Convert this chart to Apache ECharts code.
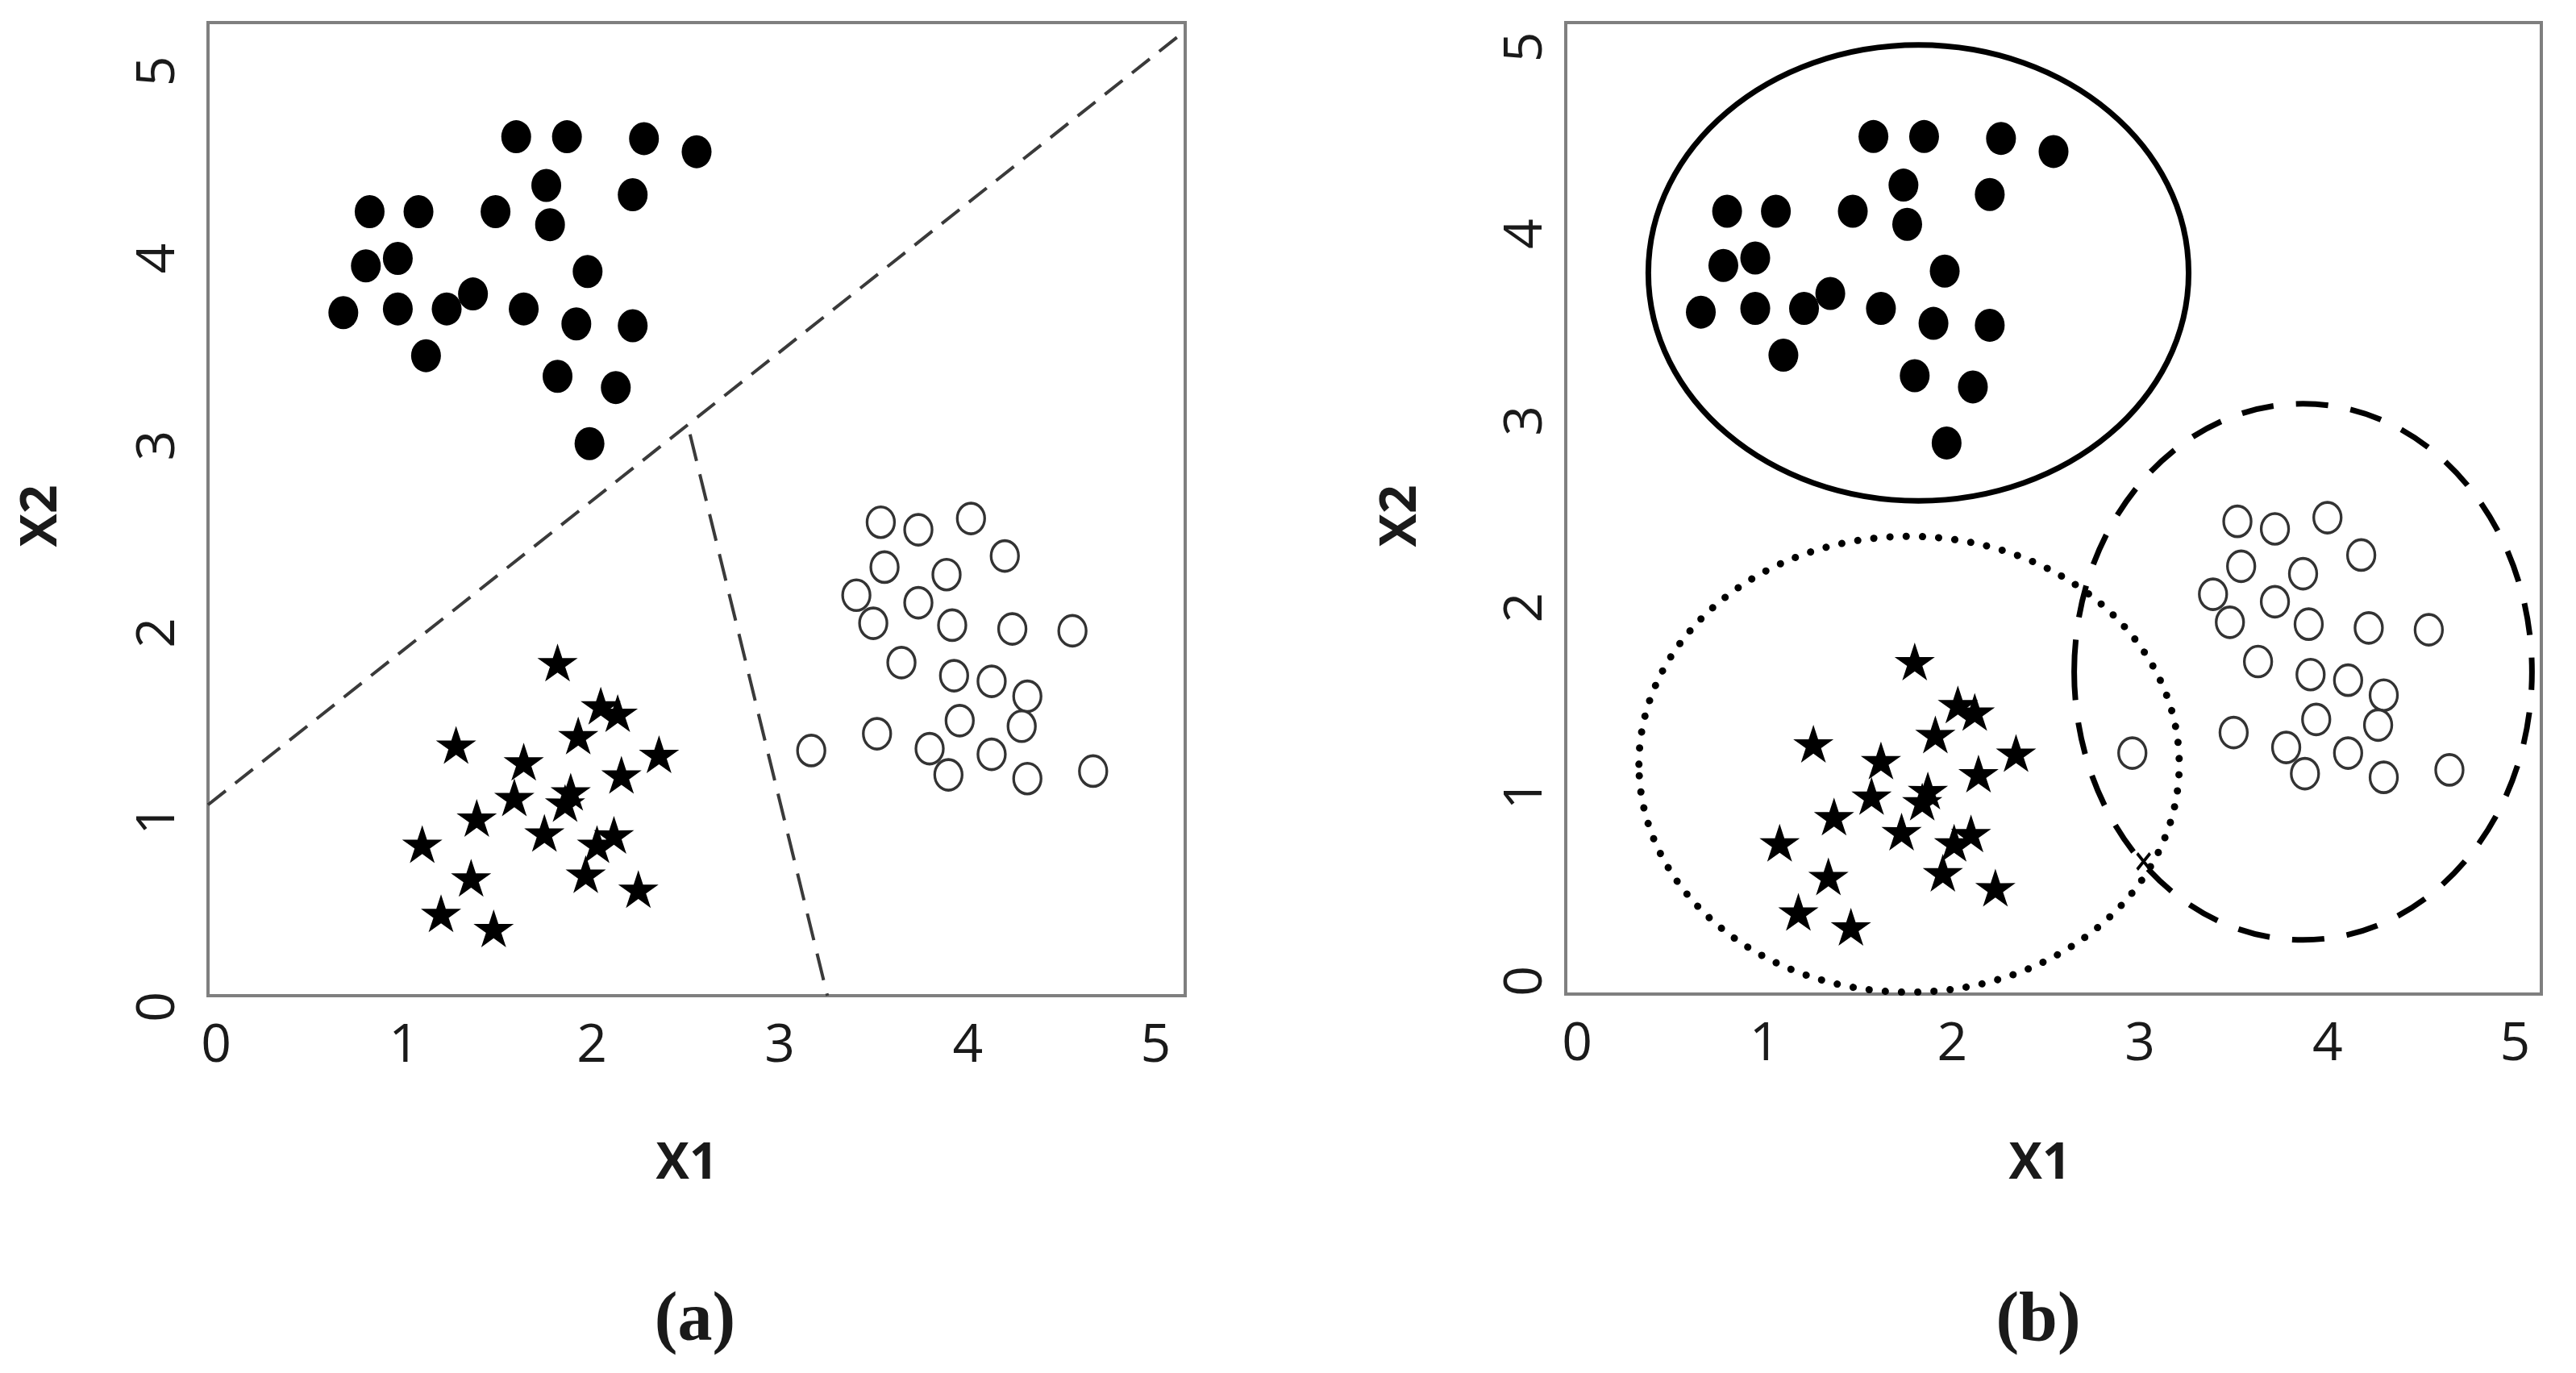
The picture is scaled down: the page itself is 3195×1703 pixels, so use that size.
<!DOCTYPE html>
<html>
<head>
<meta charset="utf-8">
<script src="https://cdn.jsdelivr.net/npm/echarts@6/dist/echarts.min.js"></script>
<style>
html,body{margin:0;padding:0;background:#fff;}
#chart{width:3195px;height:1703px;}
</style>
</head>
<body>
<div id="chart"></div>
<script>
// ---------- data ----------
var tickLabels = ['0', '1', '2', '3', '4', '5'];
var filledDots = [
  [1.64,4.59],[1.91,4.59],[2.32,4.58],[2.60,4.51],[1.80,4.33],[2.26,4.28],
  [0.86,4.19],[1.12,4.19],[1.53,4.19],[1.82,4.12],[0.84,3.90],[1.01,3.94],
  [2.02,3.87],[0.72,3.65],[1.01,3.67],[1.27,3.67],[1.41,3.75],[1.68,3.67],
  [1.96,3.59],[2.26,3.58],[1.16,3.42],[1.86,3.31],[2.17,3.25],[2.03,2.95]
];
var stars = [
  [1.86,1.78],[2.09,1.55],[2.18,1.51],[1.97,1.39],[1.32,1.34],[2.40,1.29],
  [1.68,1.25],[2.20,1.18],[1.63,1.06],[1.93,1.09],[1.90,1.03],[1.43,0.95],
  [1.79,0.87],[2.16,0.86],[2.07,0.81],[1.14,0.81],[1.40,0.63],[2.01,0.65],
  [2.29,0.57],[1.24,0.44],[1.52,0.36]
];
var hollowCommon = [
  [3.58,2.53],[3.78,2.49],[4.06,2.55],[4.24,2.35],[3.60,2.29],[3.93,2.25],
  [3.45,2.14],[3.78,2.10],[3.54,1.99],[3.96,1.98],[4.28,1.96],[4.60,1.95],
  [3.69,1.78],[3.97,1.71],[4.17,1.68],[4.36,1.60],[4.00,1.47],[4.33,1.44],
  [3.56,1.40],[3.84,1.32],[4.17,1.29],[3.94,1.18],[4.36,1.16],[4.71,1.20]
];
var hollowOutlierA = [[3.21,1.31]];
var hollowOutlierB = [[3.02,1.29]];
var boundaryLine1 = [[0,1.02],[5.18,5.14]];
var boundaryLine2 = [[2.565,3.00],[3.296,0]];
// ellipses in panel (b): [centerX, centerY, radiusX, radiusY]
var ellipseSolid  = [[1.88,3.86,1.44,1.22]];
var ellipseDotted = [[1.83,1.23,1.44,1.22]];
var ellipseDashed = [[3.93,1.725,1.22,1.435]];
var crossMark = [[3.08,0.71]];

// ---------- styling helpers ----------
var FONT = "'Open Sans', 'Noto Sans', sans-serif";
var starPath = 'path://M50 0 L61.17 34.63 L97.55 34.55 L68.07 55.87 L79.39 90.45 L50 69 L20.61 90.45 L31.93 55.87 L2.45 34.55 L38.83 34.63 Z';

function fmt(v){
  var r = Math.round(v);
  return Math.abs(v - r) < 1e-6 && tickLabels[r] !== undefined ? tickLabels[r] : '';
}
function xAxisFor(i, padX){
  return {
    gridIndex: i, type: 'value', min: 0, max: 5.2, interval: 1,
    axisLine: {show: false}, axisTick: {show: false}, splitLine: {show: false},
    axisLabel: {formatter: fmt, fontFamily: FONT, fontSize: 66, color: '#1a1a1a',
      margin: 30, padding: padX}
  };
}
function yAxisFor(i, margin, padY){
  return {
    gridIndex: i, type: 'value', min: 0, max: 5.2, interval: 1,
    axisLine: {show: false}, axisTick: {show: false}, splitLine: {show: false},
    axisLabel: {formatter: fmt, fontFamily: FONT, fontSize: 66, color: '#1a1a1a',
      rotate: 90, margin: margin, padding: padY}
  };
}
function scatter(i, data, kind){
  var s = {type: 'scatter', xAxisIndex: i, yAxisIndex: i, data: data, z: 5, animation: false};
  if (kind === 'dot') {
    s.symbol = 'circle'; s.symbolSize = [37, 41]; s.itemStyle = {color: '#000', opacity: 1};
  } else if (kind === 'star') {
    s.symbol = starPath; s.symbolSize = [50, 47]; s.itemStyle = {color: '#000', opacity: 1};
  } else {
    s.symbol = 'circle'; s.symbolSize = [34, 38];
    s.itemStyle = {color: '#fff', borderColor: '#333', borderWidth: 3.5, opacity: 1};
  }
  return s;
}
function lineS(i, data, dash){
  return {type: 'line', xAxisIndex: i, yAxisIndex: i, data: data, showSymbol: false,
    symbol: 'none', animation: false, z: 3,
    lineStyle: {color: '#3a3a3a', width: 4, type: dash}};
}
function ellipseS(i, data, stroke){
  return {type: 'custom', xAxisIndex: i, yAxisIndex: i, data: data, z: 4, animation: false,
    clip: false,
    encode: {x: 0, y: 1},
    renderItem: function(params, api){
      var c = api.coord([api.value(0), api.value(1)]);
      var s = api.size([api.value(2), api.value(3)]);
      return {type: 'ellipse', shape: {cx: c[0], cy: c[1], rx: s[0], ry: s[1]},
        style: Object.assign({fill: null}, stroke)};
    }};
}

var chart = echarts.init(document.getElementById('chart'), null, {renderer: 'canvas'});
chart.setOption({
  backgroundColor: '#fff',
  animation: false,
  grid: [
    {left: 258, top: 28, width: 1212, height: 1207, show: true, borderColor: '#7f7f7f', borderWidth: 4, backgroundColor: 'transparent'},
    {left: 1942, top: 28, width: 1210, height: 1205, show: true, borderColor: '#7f7f7f', borderWidth: 4, backgroundColor: 'transparent'}
  ],
  xAxis: [xAxisFor(0, [0,0,0,20]), xAxisFor(1, [0,0,0,28])],
  yAxis: [yAxisFor(0, 28, [0,28,0,0]), yAxisFor(1, 16, [0,0,0,32])],
  series: [
    lineS(0, boundaryLine1, [28, 15]),
    lineS(0, boundaryLine2, [34, 17]),
    scatter(0, filledDots, 'dot'),
    scatter(0, stars, 'star'),
    scatter(0, hollowCommon, 'hollow'),
    scatter(0, hollowOutlierA, 'hollow'),
    ellipseS(1, ellipseSolid, {stroke: '#000', lineWidth: 7}),
    ellipseS(1, ellipseDotted, {stroke: '#000', lineWidth: 9, lineDash: [0.1, 20], lineCap: 'round'}),
    ellipseS(1, ellipseDashed, {stroke: '#000', lineWidth: 7, lineDash: [40, 28]}),
    scatter(1, filledDots, 'dot'),
    scatter(1, stars, 'star'),
    scatter(1, hollowCommon, 'hollow'),
    scatter(1, hollowOutlierB, 'hollow'),
    {type: 'scatter', xAxisIndex: 1, yAxisIndex: 1, data: crossMark, z: 6,
      symbol: 'path://M0 0 L10 10 M10 0 L0 10', symbolSize: [16, 20],
      itemStyle: {color: 'none', borderColor: '#000', borderWidth: 4, opacity: 1}}
  ],
  graphic: [
    {type: 'text', x: 852, y: 1444, style: {text: 'X1', font: 'bold 62px ' + FONT, fill: '#1a1a1a', align: 'center', verticalAlign: 'middle'}},
    {type: 'text', x: 2530, y: 1444, style: {text: 'X1', font: 'bold 62px ' + FONT, fill: '#1a1a1a', align: 'center', verticalAlign: 'middle'}},
    {type: 'text', x: 52, y: 640, rotation: Math.PI / 2, style: {text: 'X2', font: 'bold 62px ' + FONT, fill: '#1a1a1a', align: 'center', verticalAlign: 'middle'}},
    {type: 'text', x: 1738, y: 640, rotation: Math.PI / 2, style: {text: 'X2', font: 'bold 62px ' + FONT, fill: '#1a1a1a', align: 'center', verticalAlign: 'middle'}},
    {type: 'text', x: 862, y: 1640, style: {text: '(a)', font: 'bold 86px "Liberation Serif", serif', fill: '#1a1a1a', align: 'center', verticalAlign: 'middle'}},
    {type: 'text', x: 2528, y: 1640, style: {text: '(b)', font: 'bold 86px "Liberation Serif", serif', fill: '#1a1a1a', align: 'center', verticalAlign: 'middle'}}
  ]
});
</script>
</body>
</html>
